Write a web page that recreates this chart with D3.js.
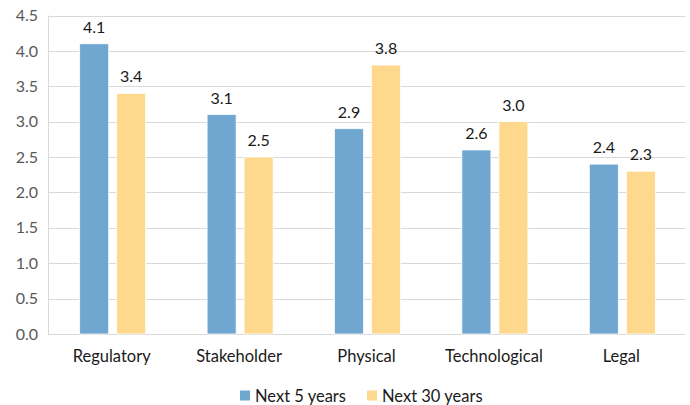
<!DOCTYPE html>
<html>
<head>
<meta charset="utf-8">
<script src="https://cdn.jsdelivr.net/npm/d3@7"></script>
<style>
  html, body { margin: 0; padding: 0; background: #fff; }
  svg { display: block; font-family: Lato, "Open Sans", sans-serif; }
</style>
</head>
<body>
<svg id="chart" width="690" height="405"></svg>
<script>
// Risk categories and average scores for two time horizons
const categories = ["Regulatory", "Stakeholder", "Physical", "Technological", "Legal"];
const seriesNames = ["Next 5 years", "Next 30 years"];
const next5 = [4.1, 3.1, 2.9, 2.6, 2.4];
const next30 = [3.4, 2.5, 3.8, 3.0, 2.3];
const yTicks = [0, 0.5, 1.0, 1.5, 2.0, 2.5, 3.0, 3.5, 4.0, 4.5];
const colors = ["#6fa7d0", "#fed98d"];

const svg = d3.select("#chart");
const margin = { left: 48, right: 5, top: 15.5, bottom: 71 };
const W = 690, H = 405;
const FONT = "Lato, 'Open Sans', sans-serif";

const x = d3.scaleBand().domain(categories)
  .range([margin.left, W - margin.right]).paddingInner(0).paddingOuter(0);
const y = d3.scaleLinear().domain([0, 4.5]).range([H - margin.bottom, margin.top]);

const barW = 29, gap = 8;
const xs = d3.scaleOrdinal().domain(seriesNames)
  .range([-(barW + gap / 2), gap / 2]);

// Horizontal gridlines
svg.append("g")
  .selectAll("line").data(yTicks).join("line")
  .attr("x1", margin.left).attr("x2", W - margin.right)
  .attr("y1", d => Math.round(y(d)) + 0.5).attr("y2", d => Math.round(y(d)) + 0.5)
  .attr("stroke", "#d9d9d9").attr("stroke-width", 1);

// Left axis line
svg.append("line")
  .attr("x1", margin.left + 0.5).attr("x2", margin.left + 0.5)
  .attr("y1", y(4.5)).attr("y2", y(0))
  .attr("stroke", "#d9d9d9");

// Y tick labels
const yAxis = d3.axisLeft(y).tickValues(yTicks).tickFormat(d3.format(".1f")).tickSize(0).tickPadding(10);
const gy = svg.append("g").attr("transform", `translate(${margin.left},0)`).call(yAxis);
gy.select(".domain").remove();
gy.selectAll("text").attr("font-size", 16).attr("fill", "#595959").attr("font-family", FONT);

// Category labels
const xAxis = d3.axisBottom(x).tickSize(0).tickPadding(16);
const gx = svg.append("g").attr("transform", `translate(0,${y(0)})`).call(xAxis);
gx.select(".domain").remove();
gx.selectAll("text").attr("font-size", 16.5).attr("fill", "#1a1a1a").attr("font-family", FONT);

// Bars and value labels
const rows = categories.map((c, i) => ({ cat: c, vals: [next5[i], next30[i]] }));
const groups = svg.append("g").selectAll("g").data(rows).join("g")
  .attr("transform", d => `translate(${x(d.cat) + x.bandwidth() / 2 + 1},0)`);

groups.selectAll("rect").data(d => d.vals.map((v, k) => ({ v, k })))
  .join("rect")
  .attr("x", d => xs(seriesNames[d.k]))
  .attr("width", barW)
  .attr("y", d => y(d.v))
  .attr("height", d => y(0) - y(d.v))
  .attr("fill", d => colors[d.k])
  .attr("stroke", "#ffffff").attr("stroke-width", 0.75);

groups.selectAll("text.val").data(d => d.vals.map((v, k) => ({ v, k })))
  .join("text").attr("class", "val")
  .attr("x", d => xs(seriesNames[d.k]) + barW / 2)
  .attr("y", d => y(d.v) - 11)
  .attr("text-anchor", "middle")
  .attr("font-size", 16).attr("fill", "#1a1a1a")
  .text(d => d3.format(".1f")(d.v));

// Legend
const legend = svg.append("g").attr("transform", "translate(0,396)");
const legendX = [240, 367];
seriesNames.forEach((s, k) => {
  legend.append("rect").attr("x", legendX[k]).attr("y", -5.5).attr("width", 10).attr("height", 10)
    .attr("fill", colors[k]);
  legend.append("text").attr("x", legendX[k] + 15).attr("y", 0).attr("dy", "0.35em")
    .attr("font-size", 16.5).attr("fill", "#1a1a1a").text(s);
});
</script>
</body>
</html>
